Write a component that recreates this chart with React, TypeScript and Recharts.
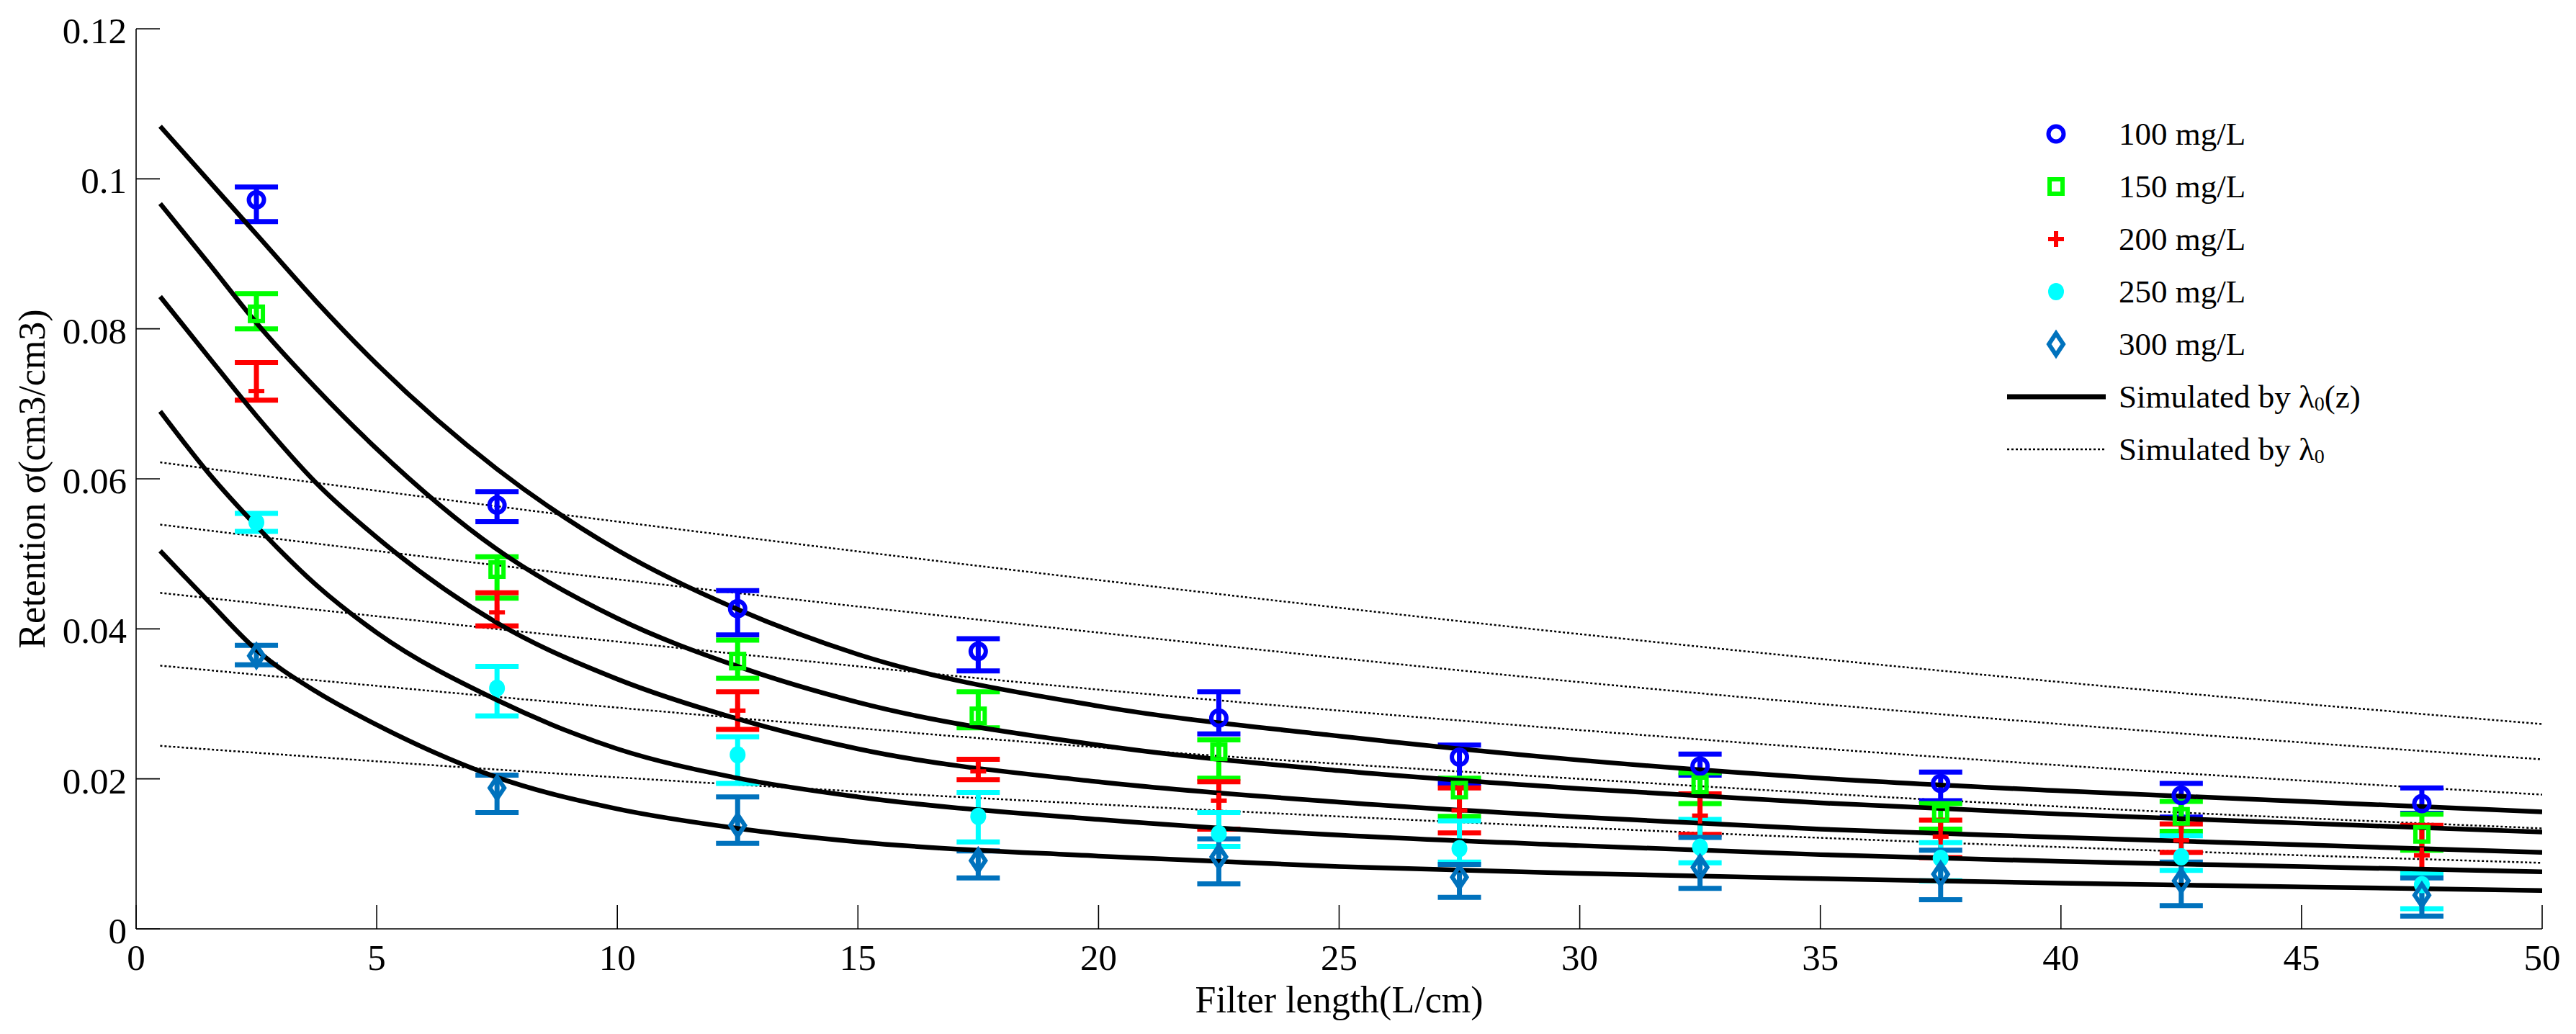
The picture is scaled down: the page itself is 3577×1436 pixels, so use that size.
import React from 'react';
import { ComposedChart, Line, Scatter, ErrorBar, XAxis, YAxis, Legend } from 'recharts';

// ---------------------------------------------------------------------------
// data
// ---------------------------------------------------------------------------

const xObs = [2.5, 7.5, 12.5, 17.5, 22.5, 27.5, 32.5, 37.5, 42.5, 47.5];

const obs100 = [0.0972, 0.0565, 0.0427, 0.037, 0.0281, 0.0229, 0.0217, 0.0194, 0.0178, 0.0167];
const obs100Hi = [0.0989, 0.0583, 0.0451, 0.0387, 0.0316, 0.0245, 0.0233, 0.0209, 0.0194, 0.0188];
const obs100Lo = [0.0943, 0.0543, 0.0392, 0.0344, 0.026, 0.0194, 0.0205, 0.0171, 0.0149, 0.0154];

const obs150 = [0.082, 0.0479, 0.0357, 0.0284, 0.0236, 0.0185, 0.0192, 0.0154, 0.015, 0.0126];
const obs150Hi = [0.0847, 0.0496, 0.0385, 0.0316, 0.0252, 0.0201, 0.0208, 0.0167, 0.017, 0.0153];
const obs150Lo = [0.08, 0.0441, 0.0334, 0.0268, 0.0201, 0.015, 0.0167, 0.0133, 0.013, 0.0105];

const obs200 = [0.0717, 0.0422, 0.0291, 0.021, 0.0171, 0.0158, 0.0151, 0.0123, 0.0118, 0.0098];
const obs200Hi = [0.0755, 0.0448, 0.0316, 0.0226, 0.0196, 0.0188, 0.018, 0.0145, 0.014, 0.0138];
const obs200Lo = [0.0705, 0.0404, 0.0266, 0.0199, 0.0133, 0.0128, 0.0126, 0.0095, 0.0102, 0.0077];

const obs250 = [0.0542, 0.0321, 0.0232, 0.015, 0.0127, 0.0107, 0.0109, 0.0094, 0.0096, 0.0059];
const obs250Hi = [0.0554, 0.035, 0.0256, 0.0182, 0.0155, 0.0144, 0.0146, 0.0115, 0.0124, 0.0074];
const obs250Lo = [0.053, 0.0284, 0.0194, 0.0116, 0.011, 0.0089, 0.0088, 0.0064, 0.0078, 0.0027];

const obs300 = [0.0364, 0.0188, 0.0138, 0.0091, 0.0096, 0.0069, 0.0082, 0.0073, 0.0064, 0.0045];
const obs300Hi = [0.0378, 0.0205, 0.0176, 0.0104, 0.012, 0.0086, 0.0122, 0.0105, 0.0089, 0.0068];
const obs300Lo = [0.0352, 0.0155, 0.0114, 0.0068, 0.006, 0.0042, 0.0054, 0.0039, 0.0031, 0.0017];

// simulated by lambda0(z) (solid)
const xFitZ = [0.5, 1.5, 2.5, 3.75, 5, 7.5, 10, 12.5, 15, 20, 25, 30, 35, 40, 45, 50];
const fitZ100 = [0.107, 0.0998, 0.0926, 0.0836, 0.0753, 0.0613, 0.0505, 0.0426, 0.0366, 0.0297, 0.0257, 0.0225, 0.0201, 0.0184, 0.017, 0.0156];
const fitZ150 = [0.0967, 0.0888, 0.0808, 0.072, 0.064, 0.0506, 0.0414, 0.035, 0.0302, 0.0245, 0.0211, 0.0187, 0.0168, 0.0153, 0.0141, 0.0129];
const fitZ200 = [0.0843, 0.0763, 0.0684, 0.0594, 0.0522, 0.0408, 0.0333, 0.028, 0.024, 0.0196, 0.0169, 0.0149, 0.0133, 0.0122, 0.0112, 0.0102];
const fitZ250 = [0.069, 0.0608, 0.0537, 0.0458, 0.0395, 0.0305, 0.024, 0.0201, 0.0176, 0.0146, 0.0125, 0.0111, 0.0099, 0.009, 0.0083, 0.0076];
const fitZ300 = [0.0504, 0.0437, 0.0372, 0.0316, 0.0272, 0.0202, 0.016, 0.0134, 0.0116, 0.0097, 0.0083, 0.0074, 0.0067, 0.0061, 0.0056, 0.0051];

// simulated by constant lambda0 (dotted)
const xFitC = [0.5, 10, 20, 30, 40, 50];
const fitC100 = [0.0622, 0.0543, 0.0465, 0.0393, 0.0329, 0.0273];
const fitC150 = [0.0539, 0.0466, 0.0395, 0.0329, 0.0273, 0.0226];
const fitC200 = [0.0448, 0.0383, 0.0319, 0.0265, 0.0218, 0.0179];
const fitC250 = [0.0351, 0.0295, 0.0242, 0.02, 0.0163, 0.0134];
const fitC300 = [0.0244, 0.0202, 0.0166, 0.0135, 0.0109, 0.0088];

const seriesNames = ['100 mg/L', '150 mg/L', '200 mg/L', '250 mg/L', '300 mg/L'];
const xTicks = [0, 5, 10, 15, 20, 25, 30, 35, 40, 45, 50];
const yTicks = [0, 0.02, 0.04, 0.06, 0.08, 0.1, 0.12];

// ---------------------------------------------------------------------------
// helpers
// ---------------------------------------------------------------------------

const FONT = 'Liberation Serif, Times New Roman, Times, serif';
const TICK_LEN = 33;
const AXIS_W = 1.6;
const txt = { fontFamily: FONT };

const toObs = (mean: number[], hi: number[], lo: number[]) =>
  xObs.map((x, i) => ({ x, y: mean[i], err: [mean[i] - lo[i], hi[i] - mean[i]] }));

const toLine = (xs: number[], ys: number[]) => xs.map((x, i) => ({ x, y: ys[i] }));

type MarkerKind = 'circle' | 'square' | 'plus' | 'dot' | 'diamond';

const Marker = ({ kind, cx, cy, color }: { kind: MarkerKind; cx: number; cy: number; color: string }) => {
  switch (kind) {
    case 'circle':
      return <circle cx={cx} cy={cy} r={10.5} fill="none" stroke={color} strokeWidth={6} />;
    case 'square':
      return <rect x={cx - 9} y={cy - 10} width={18} height={20} fill="none" stroke={color} strokeWidth={6} />;
    case 'plus':
      return (
        <g stroke={color} strokeWidth={6}>
          <line x1={cx - 11} y1={cy} x2={cx + 11} y2={cy} />
          <line x1={cx} y1={cy - 11} x2={cx} y2={cy + 11} />
        </g>
      );
    case 'dot':
      return <ellipse cx={cx} cy={cy} rx={11} ry={12} fill={color} stroke="none" />;
    default:
      return (
        <polygon
          points={`${cx},${cy - 15} ${cx + 10},${cy} ${cx},${cy + 15} ${cx - 10},${cy}`}
          fill="none"
          stroke={color}
          strokeWidth={6}
        />
      );
  }
};

const obsSeries = [
  { name: seriesNames[0], color: '#0000ff', kind: 'circle' as MarkerKind, data: toObs(obs100, obs100Hi, obs100Lo) },
  { name: seriesNames[1], color: '#00ff00', kind: 'square' as MarkerKind, data: toObs(obs150, obs150Hi, obs150Lo) },
  { name: seriesNames[2], color: '#ff0000', kind: 'plus' as MarkerKind, data: toObs(obs200, obs200Hi, obs200Lo) },
  { name: seriesNames[3], color: '#00ffff', kind: 'dot' as MarkerKind, data: toObs(obs250, obs250Hi, obs250Lo) },
  { name: seriesNames[4], color: '#0072bd', kind: 'diamond' as MarkerKind, data: toObs(obs300, obs300Hi, obs300Lo) },
];

const solidLines = [fitZ100, fitZ150, fitZ200, fitZ250, fitZ300].map((ys) => toLine(xFitZ, ys));
const dottedLines = [fitC100, fitC150, fitC200, fitC250, fitC300].map((ys) => toLine(xFitC, ys));

// ---------------------------------------------------------------------------
// ticks (inward, boxed axes)
// ---------------------------------------------------------------------------

const BottomTick = (p: any) => (
  <g>
    <line x1={p.x} y1={p.y} x2={p.x} y2={p.y - TICK_LEN} stroke="#000" strokeWidth={AXIS_W} />
    <text x={p.x} y={p.y + 40} textAnchor="middle" dominantBaseline="central" style={txt} fontSize={51} fill="#000">
      {p.payload.value}
    </text>
  </g>
);

const TopTick = (p: any) => (
  <line x1={p.x} y1={p.y} x2={p.x} y2={p.y + TICK_LEN} stroke="#000" strokeWidth={AXIS_W} />
);

const LeftTick = (p: any) => (
  <g>
    <line x1={p.x} y1={p.y} x2={p.x + TICK_LEN} y2={p.y} stroke="#000" strokeWidth={AXIS_W} />
    <text x={p.x - 13} y={p.y + 3} textAnchor="end" dominantBaseline="central" style={txt} fontSize={51} fill="#000">
      {String(p.payload.value)}
    </text>
  </g>
);

const RightTick = (p: any) => (
  <line x1={p.x} y1={p.y} x2={p.x - TICK_LEN} y2={p.y} stroke="#000" strokeWidth={AXIS_W} />
);

// ---------------------------------------------------------------------------
// legend
// ---------------------------------------------------------------------------

const LegendBox = () => {
  const rowH = 73;
  const y0 = 36;
  return (
    <svg width={560} height={520} style={{ display: 'block', overflow: 'visible' }}>
      {obsSeries.map((s, i) => (
        <g key={s.name}>
          <Marker kind={s.kind} cx={75} cy={y0 + i * rowH} color={s.color} />
          <text x={162} y={y0 + i * rowH} dominantBaseline="central" style={txt} fontSize={45} fill="#000">
            {s.name}
          </text>
        </g>
      ))}
      <line x1={7} x2={144} y1={y0 + 5 * rowH} y2={y0 + 5 * rowH} stroke="#000" strokeWidth={7} />
      <text x={162} y={y0 + 5 * rowH} dominantBaseline="central" style={txt} fontSize={45} fill="#000">
        Simulated by λ<tspan dy={9} fontSize={28}>0</tspan>
        <tspan dy={-9}>(z)</tspan>
      </text>
      <line x1={7} x2={144} y1={y0 + 6 * rowH} y2={y0 + 6 * rowH} stroke="#000" strokeWidth={2.5} strokeDasharray="3 3" />
      <text x={162} y={y0 + 6 * rowH} dominantBaseline="central" style={txt} fontSize={45} fill="#000">
        Simulated by λ<tspan dy={9} fontSize={28}>0</tspan>
      </text>
    </svg>
  );
};

// ---------------------------------------------------------------------------
// chart
// ---------------------------------------------------------------------------

export default function App() {
  return (
    <div style={{ position: 'absolute', left: 0, top: 0, width: 3577, height: 1436, background: '#fff' }}>
      <ComposedChart width={3577} height={1436} margin={{ top: 40, right: 47, bottom: 0, left: 0 }}>
        <XAxis
          xAxisId="b"
          type="number"
          dataKey="x"
          domain={[0, 50]}
          ticks={xTicks}
          allowDataOverflow
          height={146}
          tickSize={0}
          tickMargin={0}
          tickLine={false}
          tick={BottomTick}
          axisLine={{ stroke: '#000', strokeWidth: AXIS_W }}
          label={{
            content: (props: any) => {
              const vb = props.viewBox;
              return (
                <text x={vb.x + vb.width / 2} y={vb.y + 98} textAnchor="middle" dominantBaseline="central" style={txt} fontSize={52} fill="#000">
                  Filter length(L/cm)
                </text>
              );
            },
          }}
        />
        <XAxis
          xAxisId="t"
          orientation="top"
          type="number"
          dataKey="x"
          domain={[0, 50]}
          ticks={xTicks}
          allowDataOverflow
          height={0}
          tickSize={0}
          tickMargin={0}
          tickLine={false}
          tick={TopTick}
          axisLine={{ stroke: '#000', strokeWidth: AXIS_W }}
        />
        <YAxis
          yAxisId="l"
          type="number"
          domain={[0, 0.12]}
          ticks={yTicks}
          allowDataOverflow
          width={189}
          tickSize={0}
          tickMargin={0}
          tickLine={false}
          tick={LeftTick}
          axisLine={{ stroke: '#000', strokeWidth: AXIS_W }}
          label={{
            content: (props: any) => {
              const vb = props.viewBox;
              const cx = vb.x + 44;
              const cy = vb.y + vb.height / 2;
              return (
                <text x={cx} y={cy} transform={`rotate(-90 ${cx} ${cy})`} textAnchor="middle" dominantBaseline="central" style={txt} fontSize={52} fill="#000">
                  Retention σ(cm3/cm3)
                </text>
              );
            },
          }}
        />
        <YAxis
          yAxisId="r"
          orientation="right"
          type="number"
          domain={[0, 0.12]}
          ticks={yTicks}
          allowDataOverflow
          width={0}
          tickSize={0}
          tickMargin={0}
          tickLine={false}
          tick={RightTick}
          axisLine={{ stroke: '#000', strokeWidth: AXIS_W }}
        />

        {dottedLines.map((d, i) => (
          <Line
            key={`c${i}`}
            xAxisId="b"
            yAxisId="l"
            data={d}
            dataKey="y"
            type="monotone"
            stroke="#000"
            strokeWidth={2.5}
            strokeDasharray="3 3"
            dot={false}
            activeDot={false}
            isAnimationActive={false}
            legendType="none"
          />
        ))}

        {obsSeries.map((s) => (
          <Scatter
            key={s.name}
            name={s.name}
            xAxisId="b"
            yAxisId="l"
            data={s.data}
            dataKey="y"
            fill={s.color}
            isAnimationActive={false}
            shape={(p: any) => <Marker kind={s.kind} cx={p.cx} cy={p.cy} color={s.color} />}
          >
            <ErrorBar dataKey="err" direction="y" width={30} stroke={s.color} strokeWidth={7} isAnimationActive={false} />
          </Scatter>
        ))}

        {solidLines.map((d, i) => (
          <Line
            key={`z${i}`}
            xAxisId="b"
            yAxisId="l"
            data={d}
            dataKey="y"
            type="monotone"
            stroke="#000"
            strokeWidth={6.5}
            dot={false}
            activeDot={false}
            isAnimationActive={false}
            legendType="none"
          />
        ))}

        <Legend
          layout="vertical"
          align="center"
          verticalAlign="middle"
          content={() => <LegendBox />}
          wrapperStyle={{ position: 'absolute', left: 2780, top: 150, width: 560, height: 520 }}
        />
      </ComposedChart>
    </div>
  );
}
